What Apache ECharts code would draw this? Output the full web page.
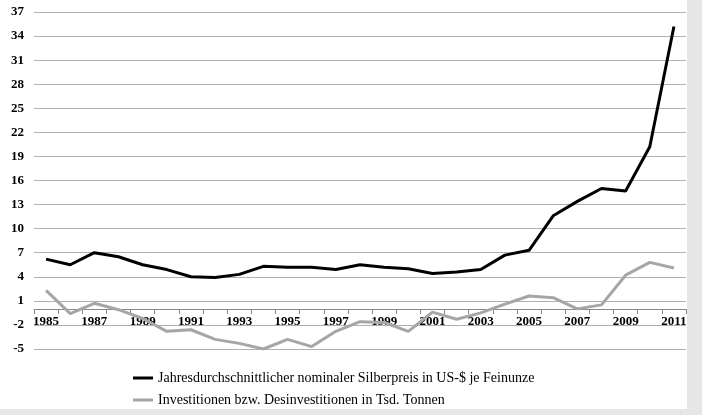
<!DOCTYPE html>
<html>
<head>
<meta charset="utf-8">
<script src="https://cdn.jsdelivr.net/npm/echarts@6/dist/echarts.min.js"></script>
<style>html,body{margin:0;padding:0;background:#e6e6e6;}#chart{width:702px;height:415px;}</style>
</head>
<body>
<div id="chart"></div>
<script>
// data
const years = ['1985','1986','1987','1988','1989','1990','1991','1992','1993','1994','1995','1996','1997','1998','1999','2000','2001','2002','2003','2004','2005','2006','2007','2008','2009','2010','2011'];
const silverPrice = [6.2, 5.5, 7.0, 6.5, 5.5, 4.9, 4.0, 3.9, 4.3, 5.3, 5.2, 5.2, 4.9, 5.5, 5.2, 5.0, 4.4, 4.6, 4.9, 6.7, 7.3, 11.6, 13.4, 15.0, 14.7, 20.2, 35.2];
const investments = [2.3, -0.6, 0.7, -0.1, -1.2, -2.8, -2.6, -3.8, -4.3, -5.0, -3.8, -4.7, -2.8, -1.6, -1.7, -2.8, -0.4, -1.3, -0.5, 0.6, 1.6, 1.4, 0.0, 0.5, 4.2, 5.8, 5.1];
const names = ['Jahresdurchschnittlicher nominaler Silberpreis in US-$ je Feinunze', 'Investitionen bzw. Desinvestitionen in Tsd. Tonnen'];

// axis runs -5..37 step 3; shift by +5 so ticks start at a multiple of 3
const SHIFT = 5;
const shift = arr => arr.map(v => v + SHIFT);

const chart = echarts.init(document.getElementById('chart'));
const font = 'Liberation Serif';
chart.setOption({
    backgroundColor: '#e6e6e6',
    animation: false,
    graphic: [{type: 'rect', left: 0, top: 0, shape: {width: 687, height: 409}, style: {fill: '#fff'}, z: -10}],
    grid: {left: 34, right: 16, top: 12, bottom: 66},
    legend: {
        orient: 'vertical', left: 128, top: 366, itemGap: 8, itemWidth: 20, itemHeight: 3,
        icon: 'rect',
        textStyle: {fontFamily: font, fontSize: 14, color: '#000'},
        data: names
    },
    xAxis: {
        type: 'category', data: years, boundaryGap: true, offset: -40,
        axisLine: {lineStyle: {color: '#888', width: 1}},
        axisTick: {show: true, interval: 0, length: 5, lineStyle: {color: '#888'}},
        axisLabel: {interval: 1, margin: 6, fontFamily: font, fontWeight: 'bold', fontSize: 13, color: '#000'}
    },
    yAxis: {
        type: 'value', min: 0, max: 42, interval: 3,
        axisLine: {show: false}, axisTick: {show: false},
        axisLabel: {formatter: v => String(v - SHIFT), margin: 10, fontFamily: font, fontWeight: 'bold', fontSize: 13, color: '#000'},
        splitLine: {lineStyle: {color: '#b0b0b0', width: 1}}
    },
    series: [
        {name: names[0], type: 'line', data: shift(silverPrice), showSymbol: false, lineStyle: {color: '#000', width: 3}, itemStyle: {color: '#000'}},
        {name: names[1], type: 'line', data: shift(investments), showSymbol: false, lineStyle: {color: '#a6a6a6', width: 3}, itemStyle: {color: '#a6a6a6'}}
    ]
});
</script>
</body>
</html>
